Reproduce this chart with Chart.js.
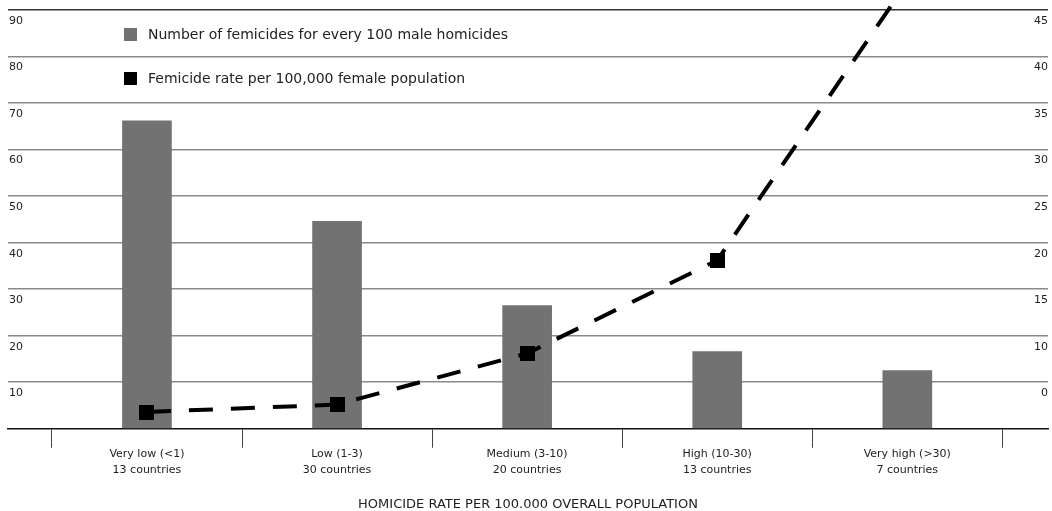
<!DOCTYPE html>
<html>
<head>
<meta charset="utf-8">
<script src="https://cdn.jsdelivr.net/npm/chart.js@4.4.1/dist/chart.umd.min.js"></script>
<style>
  html, body { margin: 0; padding: 0; background: #fff; }
  .wrap { position: relative; width: 1052px; height: 511px; }
  .legend { position: absolute; left: 124px; top: 24px; font-family: "DejaVu Sans", sans-serif; font-size: 14px; color: #222; }
  .legend-item { display: flex; align-items: center; height: 20px; margin-bottom: 24px; }
  .legend-box { width: 13px; height: 13px; margin-right: 11px; }
</style>
</head>
<body>
<div class="wrap">
  <canvas id="femicideChart" width="1052" height="511"></canvas>
  <div class="legend" id="legend"></div>
</div>
<script>
// Données
const categories = [
    ['Very low (<1)', '13 countries'],
    ['Low (1-3)', '30 countries'],
    ['Medium (3-10)', '20 countries'],
    ['High (10-30)', '13 countries'],
    ['Very high (>30)', '7 countries']
];
const femicidesPer100Male = [66.2, 44.6, 26.5, 16.6, 12.5];
const femicideRate = [1.8, 2.6, 8.1, 18.1, 48];
const leftTickValues = [10, 20, 30, 40, 50, 60, 70, 80, 90];
const rightTickValues = [5, 10, 15, 20, 25, 30, 35, 40, 45];
const rightTickLabels = ['0', '10', '15', '20', '25', '30', '35', '40', '45'];
const boundaryTicks = [-0.5, 0.5, 1.5, 2.5, 3.5, 4.5];

const FONT = '"DejaVu Sans", sans-serif';
const TEXT = '#222';

// Carré noir utilisé comme marqueur de la courbe
function squareMarker(size) {
    const c = document.createElement('canvas');
    c.width = size;
    c.height = size;
    const g = c.getContext('2d');
    g.fillStyle = '#000';
    g.fillRect(0, 0, size, size);
    return c;
}

document.addEventListener('DOMContentLoaded', function() {
    const ctx = document.getElementById('femicideChart').getContext('2d');

    const chart = new Chart(ctx, {
        type: 'bar',
        data: {
            datasets: [
                {
                    type: 'line',
                    label: 'Femicide rate per 100,000 female population',
                    data: femicideRate.map((v, i) => ({ x: i, y: v })),
                    yAxisID: 'y1',
                    borderColor: '#000',
                    backgroundColor: '#000',
                    borderWidth: 4,
                    borderDash: [24, 18],
                    pointStyle: squareMarker(15),
                    pointRadius: 1,
                    pointBorderWidth: 0,
                    clip: false,
                    order: 0
                },
                {
                    type: 'bar',
                    label: 'Number of femicides for every 100 male homicides',
                    data: femicidesPer100Male.map((v, i) => ({ x: i, y: v })),
                    yAxisID: 'y',
                    backgroundColor: '#727272',
                    barThickness: 49,
                    order: 1
                }
            ]
        },
        options: {
            responsive: false,
            animation: false,
            layout: { padding: { left: 8, right: 0, top: 10, bottom: 0 } },
            plugins: {
                legend: { display: false },
                tooltip: { enabled: false }
            },
            scales: {
                x: {
                    type: 'linear',
                    offset: false,
                    min: -0.731,
                    max: 4.74,
                    afterBuildTicks: function(scale) {
                        scale.ticks = boundaryTicks.map(v => ({ value: v }));
                    },
                    afterFit: function(scale) {
                        scale.paddingLeft = 0;
                        scale.paddingRight = 0;
                    },
                    grid: {
                        offset: false,
                        drawOnChartArea: false,
                        drawTicks: true,
                        tickLength: 19,
                        tickColor: '#444',
                        tickWidth: 1
                    },
                    border: { display: true, color: '#111', width: 1.5 },
                    ticks: {
                        autoSkip: false,
                        maxRotation: 0,
                        minRotation: 0,
                        labelOffset: 95,
                        padding: -1,
                        color: TEXT,
                        font: { family: FONT, size: 11, lineHeight: 1.42 },
                        callback: function(value, index) {
                            return categories[index] || '';
                        }
                    },
                    title: {
                        display: true,
                        text: 'HOMICIDE RATE PER 100.000 OVERALL POPULATION',
                        color: TEXT,
                        font: { family: FONT, size: 13, lineHeight: 1 },
                        padding: { top: 21, bottom: 0 }
                    }
                },
                y: {
                    position: 'left',
                    min: 0,
                    max: 90,
                    afterBuildTicks: function(scale) {
                        scale.ticks = [0].concat(leftTickValues).map(v => ({ value: v }));
                    },
                    afterFit: function(scale) { scale.width = 0; },
                    grid: {
                        drawTicks: false,
                        color: function(c) {
                            if (c.tick.value === 0) return 'rgba(0,0,0,0)';
                            return c.tick.value === 90 ? '#333' : '#8a8a8a';
                        },
                        lineWidth: 1.5
                    },
                    border: { display: false },
                    ticks: {
                        mirror: true,
                        padding: 1,
                        labelOffset: 11,
                        color: TEXT,
                        font: { family: FONT, size: 11 },
                        callback: function(value) {
                            return value === 0 ? '' : value;
                        }
                    }
                },
                y1: {
                    position: 'right',
                    min: 0,
                    max: 45,
                    afterBuildTicks: function(scale) {
                        scale.ticks = rightTickValues.map(v => ({ value: v }));
                    },
                    afterFit: function(scale) { scale.width = 0; },
                    grid: { display: false, drawTicks: false },
                    border: { display: false },
                    ticks: {
                        mirror: true,
                        padding: 0,
                        labelOffset: 11,
                        color: TEXT,
                        font: { family: FONT, size: 11 },
                        callback: function(value) {
                            const i = rightTickValues.indexOf(value);
                            return i >= 0 ? rightTickLabels[i] : '';
                        }
                    }
                }
            }
        }
    });

    // Légende HTML placée dans la zone du graphique
    const legendDiv = document.getElementById('legend');
    const items = [chart.data.datasets[1], chart.data.datasets[0]];
    legendDiv.innerHTML = items.map(ds => `
        <div class="legend-item">
            <div class="legend-box" style="background:${ds.backgroundColor}"></div>
            <span>${ds.label}</span>
        </div>
    `).join('');
});
</script>
</body>
</html>
